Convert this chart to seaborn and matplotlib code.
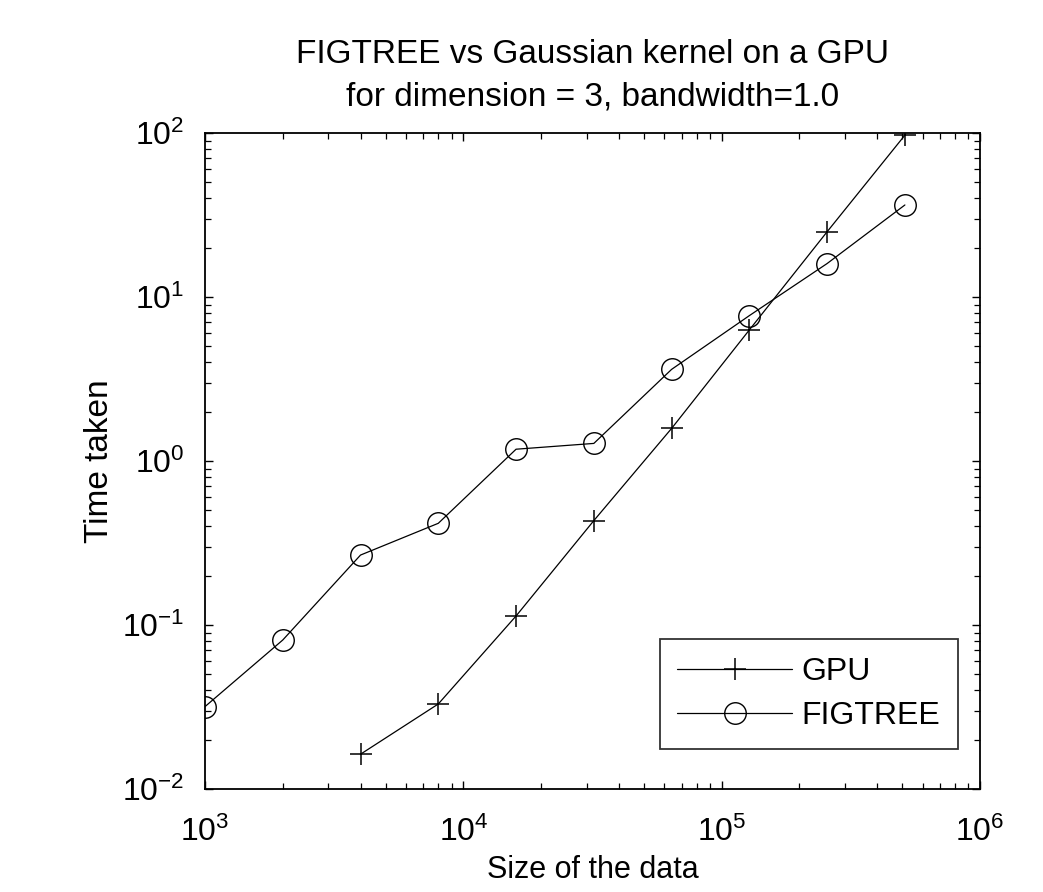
import matplotlib
matplotlib.use("Agg")
import matplotlib.pyplot as plt
import matplotlib.ticker as mticker
import seaborn as sns
import pandas as pd

# Data
gpu_sizes = [4000, 8000, 16000, 32000, 64000, 128000, 256000, 512000]
gpu_times = [0.0163, 0.033, 0.1135, 0.433, 1.58, 6.3, 25.0, 97.0]

figtree_sizes = [1000, 2000, 4000, 8000, 16000, 32000, 64000, 128000, 256000, 512000]
figtree_times = [0.0318, 0.081, 0.267, 0.417, 1.18, 1.28, 3.62, 7.7, 16.0, 36.4]

series_names = ["GPU", "FIGTREE"]

title_text = "FIGTREE vs Gaussian kernel on a GPU\nfor dimension = 3, bandwidth=1.0"
xlabel_text = "Size of the data"
ylabel_text = "Time taken"

sns.set_style("white")
plt.rcParams["font.family"] = ["Liberation Sans", "DejaVu Sans"]
plt.rcParams["mathtext.fontset"] = "custom"
plt.rcParams["mathtext.rm"] = "Liberation Sans"
plt.rcParams["mathtext.it"] = "Liberation Sans"
plt.rcParams["mathtext.default"] = "regular"
plt.rcParams["axes.unicode_minus"] = False
plt.rcParams["text.color"] = "black"
plt.rcParams["axes.labelcolor"] = "black"

df = pd.concat([
    pd.DataFrame({"size": gpu_sizes, "time": gpu_times, "method": series_names[0]}),
    pd.DataFrame({"size": figtree_sizes, "time": figtree_times, "method": series_names[1]}),
], ignore_index=True)

fig = plt.figure(figsize=(10.43, 8.92), dpi=100)
ax = fig.add_axes([205 / 1043, 1 - 789 / 892, 775 / 1043, 656 / 892])

sns.lineplot(data=df[df["method"] == series_names[0]], x="size", y="time", ax=ax,
             color="black", linewidth=0.9, marker="+", markersize=16,
             markeredgecolor="black", markeredgewidth=1.1,
             label=series_names[0])
sns.lineplot(data=df[df["method"] == series_names[1]], x="size", y="time", ax=ax,
             color="black", linewidth=0.9, marker="o", markersize=15.5,
             markerfacecolor="none", markeredgecolor="black",
             markeredgewidth=1.0, label=series_names[1])

ax.set_xscale("log")
ax.set_yscale("log")
ax.set_xlim(1e3, 1e6)
ax.set_ylim(1e-2, 1e2)

ax.xaxis.set_major_locator(mticker.LogLocator(base=10, numticks=10))
ax.yaxis.set_major_locator(mticker.LogLocator(base=10, numticks=10))
ax.xaxis.set_minor_locator(mticker.LogLocator(base=10, subs=range(2, 10), numticks=20))
ax.yaxis.set_minor_locator(mticker.LogLocator(base=10, subs=range(2, 10), numticks=20))
ax.xaxis.set_minor_formatter(mticker.NullFormatter())
ax.yaxis.set_minor_formatter(mticker.NullFormatter())

for s in ax.spines.values():
    s.set_visible(True)
    s.set_color("black")
    s.set_linewidth(1.3)

ax.tick_params(which="both", direction="in", top=True, right=True,
               bottom=True, left=True, colors="black")
ax.tick_params(which="major", length=6, width=1.0, labelsize=23)
ax.tick_params(axis="x", which="major", pad=20)
ax.tick_params(axis="y", which="major", pad=15)
ax.tick_params(which="minor", length=4, width=0.9)

ax.set_title(title_text, fontsize=24, pad=20, linespacing=1.45)
ax.set_xlabel(xlabel_text, fontsize=22, labelpad=5)
ax.set_ylabel(ylabel_text, fontsize=24, labelpad=5)
ax.grid(False)

leg = ax.legend(loc="lower right", bbox_to_anchor=(0.9716, 0.061),
                borderaxespad=0, fontsize=23, frameon=True, fancybox=False,
                edgecolor="black", handlelength=3.6, handletextpad=0.3,
                borderpad=0.55, labelspacing=0.45)
leg.get_frame().set_linewidth(1.3)

fig.savefig("out.png", dpi=100)
